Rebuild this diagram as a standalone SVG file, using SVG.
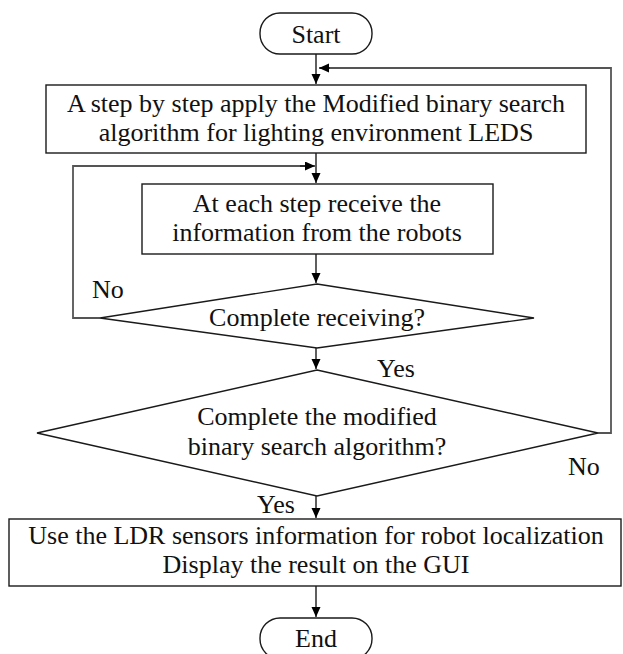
<svg xmlns="http://www.w3.org/2000/svg" width="623" height="654" viewBox="0 0 623 654">
<defs>
<marker id="ah" markerUnits="userSpaceOnUse" markerWidth="11" markerHeight="10" refX="10" refY="4.5" orient="auto">
<path d="M0,0 L10,4.5 L0,9 z" fill="#000"/>
</marker>
<style>
.s{fill:#fff;stroke:#1a1a1a;stroke-width:1.4}
.c{fill:none;stroke:#1a1a1a;stroke-width:1.4}
.g{fill:none;stroke:#555;stroke-width:1.8}
text{font-family:"Liberation Serif","Times New Roman",serif;font-size:26px;fill:#111;text-anchor:middle}
.l{text-anchor:start}
</style>
</defs>
<rect width="623" height="654" fill="#fff"/>
<g id="connectors">
<path class="c" d="M316,54 V84" marker-end="url(#ah)"/>
<path class="g" d="M598,433 H611 V68 H320"/>
<path class="c" d="M330,68 H319" marker-end="url(#ah)"/>
<path class="c" d="M316,153 V183" marker-end="url(#ah)"/>
<path class="g" d="M100,318 H73 V166 H305"/>
<path class="c" d="M300,166 H315" marker-end="url(#ah)"/>
<path class="c" d="M316,254 V283" marker-end="url(#ah)"/>
<path class="c" d="M316,348 V369" marker-end="url(#ah)"/>
<path class="c" d="M316,496 V518" marker-end="url(#ah)"/>
<path class="c" d="M316,586 V617" marker-end="url(#ah)"/>
<text class="l" x="92" y="298">No</text>
<text class="l" x="377" y="377">Yes</text>
<text class="l" x="568" y="475">No</text>
<text class="l" x="257" y="513">Yes</text>
</g>
<g id="start">
<rect class="s" x="260" y="13" width="112" height="41" rx="20" ry="20"/>
<text x="316" y="43">Start</text>
</g>
<g id="step">
<rect class="s" x="46" y="85" width="540" height="68"/>
<text x="316" y="112">A step by step apply the Modified binary search</text>
<text x="316" y="141">algorithm for lighting environment LEDS</text>
</g>
<g id="receive">
<rect class="s" x="142" y="184" width="351" height="70"/>
<text x="317" y="212">At each step receive the</text>
<text x="317" y="241">information from the robots</text>
</g>
<g id="decision1">
<polygon class="s" points="317,284 534,318 317,348 100,318"/>
<text x="317" y="326">Complete receiving?</text>
</g>
<g id="decision2">
<polygon class="s" points="317,370 598,433 317,496 37,433"/>
<text x="317" y="425">Complete the modified</text>
<text x="317" y="455">binary search algorithm?</text>
</g>
<g id="localize">
<rect class="s" x="9" y="519" width="612" height="67"/>
<text x="316" y="544">Use the LDR sensors information for robot localization</text>
<text x="316" y="573">Display the result on the GUI</text>
</g>
<g id="end">
<rect class="s" x="260" y="618" width="112" height="41" rx="20" ry="20"/>
<text x="316" y="647">End</text>
</g>
</svg>
